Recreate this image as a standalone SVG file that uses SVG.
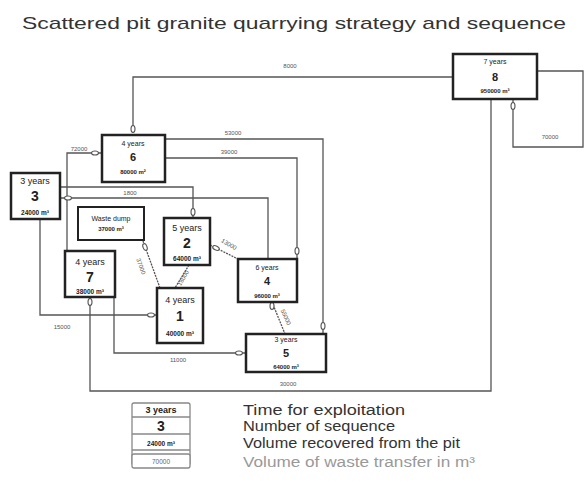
<svg xmlns="http://www.w3.org/2000/svg" width="584" height="497" viewBox="0 0 584 497">
<style>
text{font-family:"Liberation Sans",Arial,sans-serif;fill:#222;text-anchor:middle}
.box{fill:#fff;stroke:#222;stroke-width:2.5}
.ln{fill:none;stroke:#555;stroke-width:1.3}
.mk{fill:#fff;stroke:#555;stroke-width:1.1}
.lb{font-size:6px;fill:#555}
.s{font-size:7px}
.b{font-size:11px;font-weight:bold}
.v{font-size:6px;font-weight:bold}
.s2{font-size:9px}
.b2{font-size:14px;font-weight:bold}
.v2{font-size:6.5px;font-weight:bold}
.lg{font-size:14px;fill:#333;text-anchor:start}
</style>
<rect width="584" height="497" fill="#fff"/>
<text x="22" y="29" textLength="544" lengthAdjust="spacingAndGlyphs" style="font-size:17px;fill:#333;text-anchor:start">Scattered pit granite quarrying strategy and sequence</text>
<g id="connectors">
<polyline class="ln" points="453,77 133,77 133,133"/>
<text class="lb" x="290" y="68">8000</text>
<polyline class="ln" points="537,71 583,71 583,147 513,147 513,99"/>
<text class="lb" x="550" y="139">70000</text>
<polyline class="ln" points="491,99 491,391 90,391 90,297"/>
<text class="lb" x="288" y="386">30000</text>
<polyline class="ln" points="67,252 67,153 102,153"/>
<text class="lb" x="79" y="151">72000</text>
<polyline class="ln" points="165,139 323,139 323,334"/>
<text class="lb" x="233" y="135">53000</text>
<polyline class="ln" points="165,158 297,158 297,259"/>
<text class="lb" x="229" y="154">39000</text>
<polyline class="ln" points="60,187 193,187 193,218"/>
<text class="lb" x="130" y="195">1800</text>
<polyline class="ln" points="268,259 268,198 60,198"/>
<polyline class="ln" points="40,219 40,315 157,315"/>
<text class="lb" x="62" y="329">15000</text>
<polyline class="ln" points="114,297 114,353 246,353"/>
<text class="lb" x="178" y="362">11000</text>
<line class="ln" x1="143" y1="241" x2="160" y2="288" stroke-dasharray="2 1"/>
<text class="lb" transform="translate(139,267) rotate(70)">37000</text>
<line class="ln" x1="189" y1="265" x2="175" y2="288" stroke-dasharray="2 1"/>
<text class="lb" transform="translate(185,279) rotate(-60)">16000</text>
<line class="ln" x1="210" y1="245" x2="238" y2="259" stroke-dasharray="2 1"/>
<text class="lb" transform="translate(228,246) rotate(30)">13000</text>
<line class="ln" x1="272" y1="302" x2="285" y2="334" stroke-dasharray="2 1"/>
<text class="lb" transform="translate(284,318) rotate(65)">55000</text>
<ellipse class="mk" cx="133" cy="129" rx="2" ry="3.5"/>
<ellipse class="mk" cx="513" cy="106" rx="2" ry="3.5"/>
<ellipse class="mk" cx="90" cy="302" rx="2" ry="3.5"/>
<ellipse class="mk" cx="95" cy="153" rx="3.5" ry="2"/>
<ellipse class="mk" cx="193" cy="212" rx="2" ry="3.5"/>
<ellipse class="mk" cx="68" cy="198" rx="3.5" ry="2"/>
<ellipse class="mk" cx="297" cy="251" rx="2" ry="3.5"/>
<ellipse class="mk" cx="323" cy="326" rx="2" ry="3.5"/>
<ellipse class="mk" cx="151" cy="315" rx="3.5" ry="2"/>
<ellipse class="mk" cx="239" cy="353" rx="3.5" ry="2"/>
<ellipse class="mk" cx="145" cy="247" rx="2" ry="3.5" transform="rotate(-20 145 247)"/>
<ellipse class="mk" cx="216" cy="248" rx="3.5" ry="2" transform="rotate(27 216 248)"/>
<ellipse class="mk" cx="272" cy="306" rx="2" ry="3.5"/>
</g>
<g id="node8">
<rect class="box" x="453" y="54" width="84" height="45"/>
<text class="s" x="495" y="64">7 years</text>
<text class="b" x="495" y="81">8</text>
<text class="v" x="495" y="93">950000 m³</text>
</g>
<g id="node6">
<rect class="box" x="102" y="135" width="63" height="47"/>
<text class="s" x="133" y="146">4 years</text>
<text class="b" x="133" y="161">6</text>
<text class="v" x="133" y="174">80000 m²</text>
</g>
<g id="node3">
<rect class="box" x="11" y="173" width="49" height="46"/>
<text class="s2" x="35" y="184">3 years</text>
<text class="b2" x="35" y="201">3</text>
<text class="v2" x="35" y="215">24000 m³</text>
</g>
<g id="wastedump">
<rect class="box" x="78" y="207" width="66" height="33" style="stroke-width:2"/>
<text class="s" x="111" y="221">Waste dump</text>
<text class="v" x="111" y="231">37000 m³</text>
</g>
<g id="node2">
<rect class="box" x="164" y="218" width="46" height="47"/>
<text class="s2" x="187" y="231">5 years</text>
<text class="b2" x="187" y="248">2</text>
<text class="v2" x="187" y="261">64000 m³</text>
</g>
<g id="node7">
<rect class="box" x="65" y="251" width="50" height="46"/>
<text class="s2" x="90" y="265">4 years</text>
<text class="b2" x="90" y="282">7</text>
<text class="v2" x="90" y="294">38000 m³</text>
</g>
<g id="node1">
<rect class="box" x="157" y="288" width="46" height="55"/>
<text class="s2" x="180" y="303">4 years</text>
<text class="b2" x="180" y="321">1</text>
<text class="v2" x="180" y="336">40000 m³</text>
</g>
<g id="node4">
<rect class="box" x="238" y="259" width="59" height="43"/>
<text class="s" x="267" y="270">6 years</text>
<text class="b" x="267" y="285">4</text>
<text class="v" x="267" y="298">96000 m³</text>
</g>
<g id="node5">
<rect class="box" x="246" y="334" width="80" height="38"/>
<text class="s" x="286" y="342">3 years</text>
<text class="b" x="286" y="357">5</text>
<text class="v" x="286" y="369">64000 m³</text>
</g>
<g id="legend">
<rect x="132" y="403" width="58" height="62" rx="2" fill="#fff" stroke="#888" stroke-width="1.3"/>
<line x1="132" y1="417" x2="190" y2="417" stroke="#888" stroke-width="1.3"/>
<line x1="132" y1="434" x2="190" y2="434" stroke="#888" stroke-width="1.3"/>
<line x1="132" y1="450" x2="190" y2="450" stroke="#888" stroke-width="1.3"/>
<text x="161" y="413" style="font-size:9px;font-weight:bold">3 years</text>
<text x="161" y="431" style="font-size:14px;font-weight:bold">3</text>
<text x="161" y="446" style="font-size:6.5px;font-weight:bold">24000 m³</text>
<rect x="132" y="454" width="58" height="14" rx="2" fill="#fff" stroke="#888" stroke-width="1.3"/>
<text x="161" y="464" style="font-size:6.5px;fill:#666">70000</text>
<text class="lg" x="243" y="415" textLength="162" lengthAdjust="spacingAndGlyphs">Time for exploitation</text>
<text class="lg" x="243" y="431" textLength="152" lengthAdjust="spacingAndGlyphs">Number of sequence</text>
<text class="lg" x="243" y="448" textLength="217" lengthAdjust="spacingAndGlyphs">Volume recovered from the pit</text>
<text class="lg" x="243" y="467" textLength="232" lengthAdjust="spacingAndGlyphs" style="fill:#999">Volume of waste transfer in m³</text>
</g>
</svg>
